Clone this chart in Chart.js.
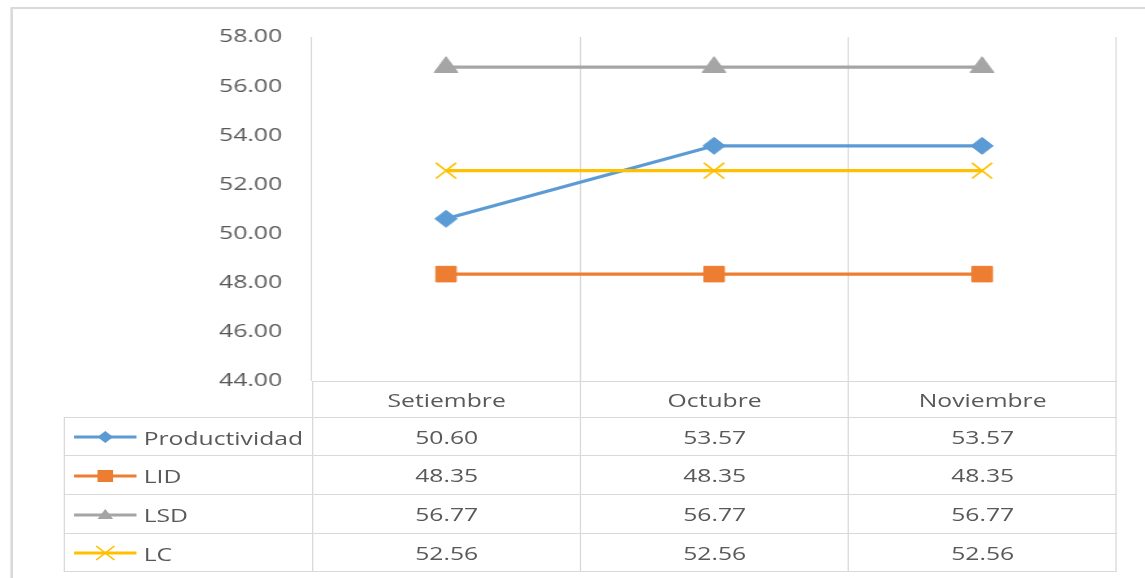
<!DOCTYPE html>
<html>
<head>
<meta charset="utf-8">
<script src="https://cdn.jsdelivr.net/npm/chart.js@4/dist/chart.umd.min.js"></script>
<style>
  html, body { margin: 0; padding: 0; background: #fff; overflow: hidden; }
  /* the whole sheet is laid out narrow and stretched sideways */
  #wrap {
    position: relative; width: 881px; height: 578px;
    transform: scaleX(1.3); transform-origin: 0 0;
    font-family: 'Open Sans', sans-serif; color: #595959;
  }
  #frame {
    position: absolute; left: 8px; top: 7px; width: 900px; height: 600px;
    border: 2px solid #d9d9d9; box-sizing: border-box;
  }
  #chart { position: absolute; left: 0; top: 0; }
  #dataTable {
    position: absolute; left: 48.5px; top: 381px; width: 810px;
    border-collapse: collapse; table-layout: fixed; font-size: 19px;
  }
  #dataTable td {
    border: 1px solid #d9d9d9; text-align: center; padding: 0;
    vertical-align: middle; white-space: nowrap;
  }
  #dataTable td.blank { border-top: none; border-left: none; }
  #dataTable td.key { text-align: left; padding-left: 6px; }
  #dataTable td.key svg { vertical-align: middle; margin-right: 5px; }
  #dataTable td.key span { vertical-align: middle; }
</style>
</head>
<body>
<div id="wrap">
  <div id="frame"></div>
  <canvas id="chart" width="881" height="578"></canvas>
  <table id="dataTable"></table>
</div>
<script>
var categories = ['Setiembre', 'Octubre', 'Noviembre'];
var productividad = [50.60, 53.57, 53.57];
var lid = [48.35, 48.35, 48.35];
var lsd = [56.77, 56.77, 56.77];
var lc = [52.56, 52.56, 52.56];
var yMin = 44, yMax = 58, yStep = 2;

var series = [
  { name: 'Productividad', data: productividad, color: '#5b9bd5', marker: 'rectRot', size: 8.5 },
  { name: 'LID', data: lid, color: '#ed7d31', marker: 'rect', size: 11 },
  { name: 'LSD', data: lsd, color: '#a5a5a5', marker: 'triangle', size: 10.5 },
  { name: 'LC', data: lc, color: '#ffc000', marker: 'crossRot', size: 11 }
];

var rowHeights = [36, 38, 39, 39, 38];

Chart.defaults.font.family = "'Open Sans', sans-serif";
Chart.defaults.font.size = 19;
Chart.defaults.color = '#595959';

var ctx = document.getElementById('chart').getContext('2d');
var chart = new Chart(ctx, {
  type: 'line',
  data: {
    labels: categories,
    datasets: series.map(function(s, i) {
      return {
        label: s.name,
        data: s.data,
        borderColor: s.color,
        backgroundColor: s.color,
        borderWidth: 3.2,
        tension: 0,
        pointStyle: s.marker,
        pointRadius: s.size,
        pointHoverRadius: s.size,
        pointBackgroundColor: s.color,
        pointBorderColor: s.color,
        pointBorderWidth: s.marker === 'crossRot' ? 1.6 : 1,
        order: series.length - i
      };
    })
  },
  options: {
    responsive: false,
    animation: false,
    layout: { padding: { left: 0, top: 37, right: 22.5, bottom: 197 } },
    plugins: { legend: { display: false }, tooltip: { enabled: false } },
    scales: {
      x: {
        offset: true,
        grid: { offset: true, color: '#d9d9d9', drawTicks: false },
        border: { color: '#d9d9d9' },
        ticks: { display: false }
      },
      y: {
        min: yMin,
        max: yMax,
        afterFit: function(scale) { scale.width = 240; },
        grid: { display: false, drawTicks: false },
        border: { display: false },
        ticks: {
          stepSize: yStep,
          padding: 23,
          callback: function(v) { return v.toFixed(2); }
        }
      }
    }
  }
});

// legend key drawn as a little svg in the first column of the table
function keySvg(s) {
  var c = s.color, m = '';
  if (s.marker === 'rectRot') m = '<polygon points="25,4 31,10 25,16 19,10" fill="' + c + '"/>';
  if (s.marker === 'rect') m = '<rect x="19" y="4" width="12" height="12" fill="' + c + '"/>';
  if (s.marker === 'triangle') m = '<polygon points="25,4 31,14 19,14" fill="' + c + '"/>';
  if (s.marker === 'crossRot') m = '<path d="M18,3 L32,17 M32,3 L18,17" stroke="' + c + '" stroke-width="1.3"/>';
  return '<svg width="50" height="20" viewBox="0 0 50 20"><line x1="1" y1="10" x2="49" y2="10" stroke="' + c + '" stroke-width="3"/>' + m + '</svg>';
}

var html = '<colgroup><col style="width:191.5px">';
categories.forEach(function() { html += '<col style="width:206.17px">'; });
html += '</colgroup>';
html += '<tr style="height:' + rowHeights[0] + 'px"><td class="blank"></td>';
categories.forEach(function(c) { html += '<td>' + c + '</td>'; });
html += '</tr>';
series.forEach(function(s, i) {
  html += '<tr style="height:' + rowHeights[i + 1] + 'px"><td class="key">' + keySvg(s) + '<span>' + s.name + '</span></td>';
  s.data.forEach(function(v) { html += '<td>' + v.toFixed(2) + '</td>'; });
  html += '</tr>';
});
document.getElementById('dataTable').innerHTML = html;
</script>
</body>
</html>
